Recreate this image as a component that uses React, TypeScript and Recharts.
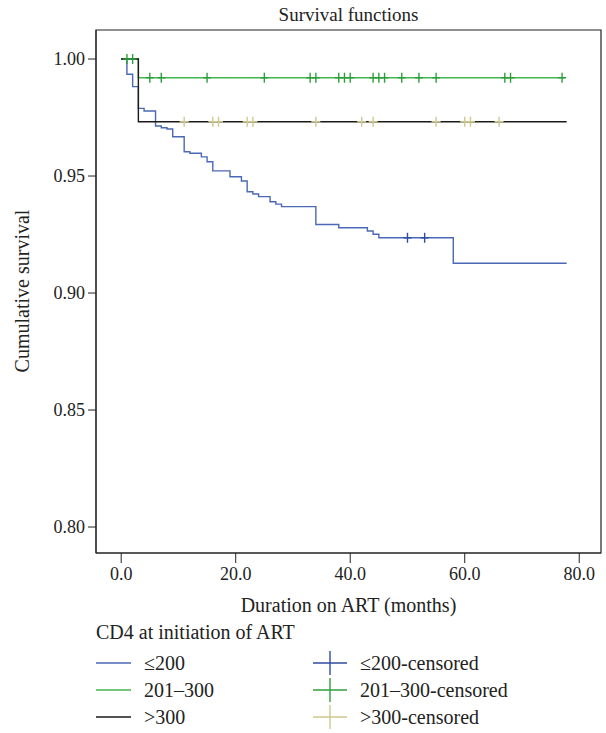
import { ComposedChart, Line, Scatter, XAxis, YAxis, ReferenceArea } from 'recharts';

// time (months) at each step and the survival after it
const LOW_T = [0, 1, 2, 3, 4, 6, 7, 8, 9, 11, 12, 14, 15, 16, 19, 21, 22, 23, 24, 26, 27, 28, 34, 38, 43, 44, 45, 58, 77.8];
const LOW_S = [1.0, 0.9935, 0.9882, 0.9789, 0.9778, 0.9714, 0.9706, 0.9701, 0.9668, 0.9604, 0.9597, 0.9582, 0.9561, 0.9522, 0.9497, 0.9479, 0.9433, 0.9423, 0.9412, 0.939, 0.938, 0.9369, 0.9293, 0.9279, 0.9265, 0.9251, 0.9236, 0.9127, 0.9127];
const MID_T = [0, 3, 77.5];
const MID_S = [1.0, 0.992, 0.992];
const HIGH_T = [0, 3, 77.8];
const HIGH_S = [1.0, 0.9732, 0.9732];

const LOW_CENSORED = [50, 53];
const MID_CENSORED_START = [1, 2];
const MID_CENSORED = [5, 7, 15, 25, 33, 34, 38, 39, 40, 44, 45, 46, 49, 52, 55, 67, 68, 77];
const HIGH_CENSORED = [11, 16, 17, 22, 23, 34, 42, 44, 55, 60, 61, 66];

const X_TICKS = [0, 20, 40, 60, 80];
const Y_TICKS = [0.8, 0.85, 0.9, 0.95, 1.0];
const X_DOMAIN: [number, number] = [-4.4, 83.8];
const Y_DOMAIN: [number, number] = [0.7889, 1.0124];

const BLUE = '#4a68b4';
const GREEN = '#45b54d';
const BLACK = '#1a1a1a';
const BLUE_MARK = '#2f4d9f';
const GREEN_MARK = '#2e9e3c';
const TAN_MARK = '#cfc88e';
const FONT = '"Liberation Serif", "DejaVu Serif", serif';

const zip = (t: number[], s: number[]) => t.map((x, i) => ({ t: x, s: s[i] }));
const low = zip(LOW_T, LOW_S);
const mid = zip(MID_T, MID_S);
const high = zip(HIGH_T, HIGH_S);
const lowCens = LOW_CENSORED.map((t) => ({ t, s: 0.9236 }));
const midCens = [
  ...MID_CENSORED_START.map((t) => ({ t, s: 1.0 })),
  ...MID_CENSORED.map((t) => ({ t, s: 0.992 })),
];
const highCens = HIGH_CENSORED.map((t) => ({ t, s: 0.9732 }));

function plus(color: string, w: number, h: number) {
  return (props: any) => {
    const { cx, cy } = props;
    return (
      <g stroke={color} strokeWidth={1.4}>
        <line x1={cx - w / 2} x2={cx + w / 2} y1={cy} y2={cy} />
        <line x1={cx} x2={cx} y1={cy - h / 2} y2={cy + h / 2} />
      </g>
    );
  };
}

const tick = { fontSize: 18, fill: '#222', fontFamily: FONT };

function LegendRow({ top, left, kind, color, label }: { top: number; left: number; kind: 'line' | 'plus'; color: string; label: string }) {
  return (
    <div style={{ position: 'absolute', top: top - 12, left, height: 24, display: 'flex', alignItems: 'center' }}>
      <svg width={36} height={24} style={{ display: 'block' }}>
        {kind === 'line' ? (
          <line x1={0} x2={35} y1={12} y2={12} stroke={color} strokeWidth={1.4} />
        ) : (
          <g stroke={color} strokeWidth={1.4}>
            <line x1={1} x2={35} y1={12} y2={12} />
            <line x1={18} x2={18} y1={0} y2={24} />
          </g>
        )}
      </svg>
      <span style={{ marginLeft: 12, fontSize: 20, color: '#222', fontFamily: FONT, whiteSpace: 'nowrap' }}>{label}</span>
    </div>
  );
}

export default function App() {
  return (
    <div style={{ position: 'absolute', left: 0, top: 0, width: 606, height: 733, background: '#fff', fontFamily: FONT }}>
      <div style={{ position: 'absolute', top: 4, left: 96, width: 505, textAlign: 'center', fontSize: 19, color: '#222' }}>
        Survival functions
      </div>
      <div
        style={{
          position: 'absolute',
          left: 22,
          top: 291,
          transform: 'translate(-50%, -50%) rotate(-90deg)',
          fontSize: 20,
          color: '#222',
          whiteSpace: 'nowrap',
        }}
      >
        Cumulative survival
      </div>
      <ComposedChart width={606} height={600} margin={{ top: 30, right: 5, left: 0, bottom: 17 }}>
        <XAxis
          dataKey="t"
          type="number"
          domain={X_DOMAIN}
          allowDataOverflow
          ticks={X_TICKS}
          tickFormatter={(v) => Number(v).toFixed(1)}
          tick={tick}
          tickSize={10}
          tickMargin={4}
          height={30}
          stroke="#222"
        />
        <YAxis
          type="number"
          domain={Y_DOMAIN}
          allowDataOverflow
          ticks={Y_TICKS}
          tickFormatter={(v) => Number(v).toFixed(2)}
          tick={tick}
          tickSize={8}
          tickMargin={3}
          width={96}
          stroke="#222"
        />
        <ReferenceArea x1={X_DOMAIN[0]} x2={X_DOMAIN[1]} y1={Y_DOMAIN[0]} y2={Y_DOMAIN[1]} fill="none" stroke="#222" strokeWidth={1.2} />
        <Line data={low} dataKey="s" type="stepAfter" stroke={BLUE} strokeWidth={1.4} dot={false} isAnimationActive={false} />
        <Line data={mid} dataKey="s" type="stepAfter" stroke={GREEN} strokeWidth={1.4} dot={false} isAnimationActive={false} />
        <Line data={high} dataKey="s" type="stepAfter" stroke={BLACK} strokeWidth={1.4} dot={false} isAnimationActive={false} />
        <Scatter data={lowCens} dataKey="s" shape={plus(BLUE_MARK, 8, 10)} isAnimationActive={false} />
        <Scatter data={midCens} dataKey="s" shape={plus(GREEN_MARK, 8, 10)} isAnimationActive={false} />
        <Scatter data={highCens} dataKey="s" shape={plus(TAN_MARK, 9, 10)} isAnimationActive={false} />
      </ComposedChart>
      <div style={{ position: 'absolute', top: 594, left: 96, width: 505, textAlign: 'center', fontSize: 20, color: '#222' }}>
        Duration on ART (months)
      </div>
      <div style={{ position: 'absolute', top: 621, left: 96, fontSize: 20, color: '#222' }}>CD4 at initiation of ART</div>
      <LegendRow top={663} left={96} kind="line" color={BLUE} label="≤200" />
      <LegendRow top={690} left={96} kind="line" color={GREEN} label="201–300" />
      <LegendRow top={717} left={96} kind="line" color={BLACK} label=">300" />
      <LegendRow top={663} left={312} kind="plus" color={BLUE_MARK} label="≤200-censored" />
      <LegendRow top={690} left={312} kind="plus" color={GREEN_MARK} label="201–300-censored" />
      <LegendRow top={717} left={312} kind="plus" color={TAN_MARK} label=">300-censored" />
    </div>
  );
}
